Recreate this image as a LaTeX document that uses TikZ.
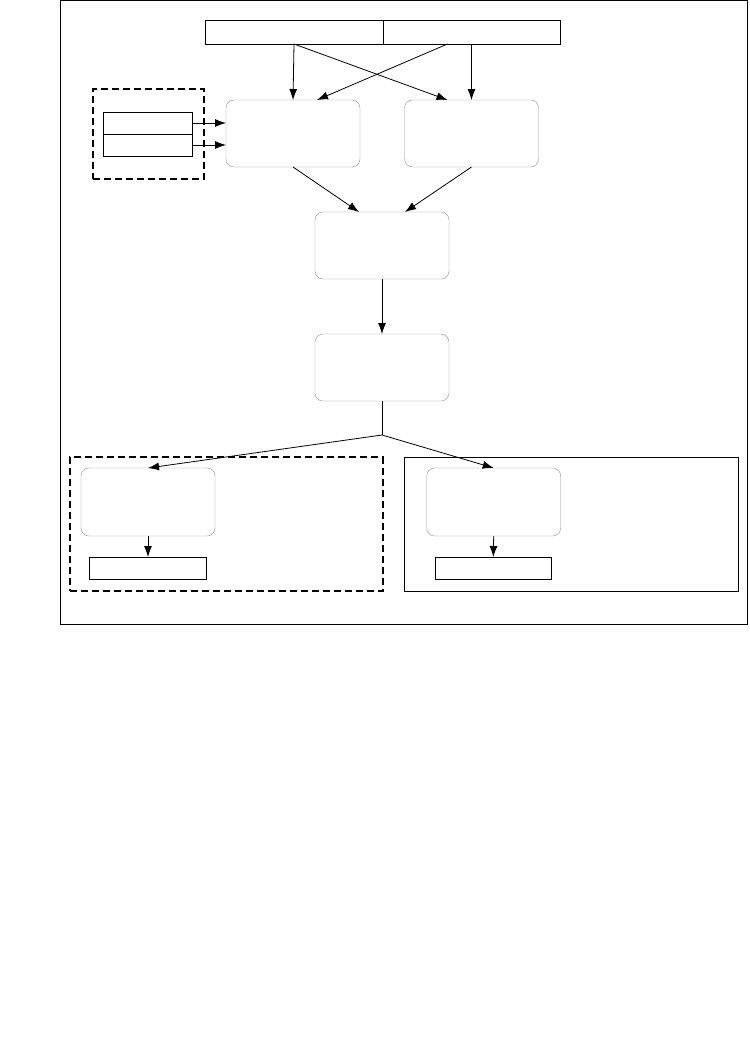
\documentclass[tikz,border=0pt]{standalone}
\usetikzlibrary{arrows.meta,calc}
\tikzset{
  proc/.style={draw=gray!85,rounded corners=8pt,minimum width=134pt,minimum height=67pt,inner sep=0pt,outer sep=0pt},
  cell/.style={draw,line width=0.9pt,inner sep=0pt,outer sep=0pt,minimum height=22pt},
  grp/.style={draw,line width=2pt,dash pattern=on 7pt off 4pt,inner sep=0pt},
  arr/.style={-{Latex[length=11pt,width=8pt]},line width=0.8pt}
}
\begin{document}
\begin{tikzpicture}[x=1pt,y=-1pt]
  \useasboundingbox (0,0) rectangle (750,1037);
  \draw[line width=1pt] (60,0.5) rectangle (747,624);
  \node[cell,minimum width=178pt,minimum height=24pt] (barL) at (294,32) {};
  \node[cell,minimum width=177pt,minimum height=24pt] (barR) at (471.5,32) {};
  \node[grp,minimum width=111pt,minimum height=90pt] (grpIn) at (148.5,134) {};
  \node[cell,minimum width=89pt] (inA) at (148,123) {};
  \node[cell,minimum width=89pt] (inB) at (148,145) {};
  \node[proc] (procL) at (293,133.5) {};
  \node[proc] (procR) at (471.5,133.5) {};
  \node[proc] (merge) at (382,245.5) {};
  \node[proc] (stage) at (382,367.5) {};
  \coordinate (split) at (382,435);
  \node[grp,minimum width=312.5pt,minimum height=134pt] (grpL) at (226.25,524) {};
  \node[draw,line width=1pt,minimum width=334pt,minimum height=134pt,inner sep=0pt] (grpR) at (571.5,524) {};
  \node[proc,minimum height=68pt] (outL) at (148,502) {};
  \node[proc,minimum height=68pt] (outR) at (493.7,502) {};
  \node[cell,minimum width=117pt] (resL) at (148,568) {};
  \node[cell,minimum width=116.5pt] (resR) at (493.3,568) {};
  \draw[arr] (barL.south) -- (procL.north);
  \draw[arr] (barR.south) -- (procR.north);
  \draw[arr] (barL.south) -- ($(procR.north)+(-24,0)$);
  \draw[arr] ($(barR.south)+(-24,0)$) -- ($(procL.north)+(24,0)$);
  \draw[arr] (inA.east) -- (inA.east -| procL.west);
  \draw[arr] (inB.east) -- (inB.east -| procL.west);
  \draw[arr] (procL.south) -- ($(merge.north)+(-23,0)$);
  \draw[arr] (procR.south) -- ($(merge.north)+(23,0)$);
  \draw[arr] (merge.south) -- (stage.north);
  \draw[line width=0.8pt] (stage.south) -- (split);
  \draw[arr] (split) -- (outL.north);
  \draw[arr] (split) -- (outR.north);
  \draw[arr] (outL.south) -- (resL.north);
  \draw[arr] (outR.south) -- (resR.north);
\end{tikzpicture}
\end{document}
